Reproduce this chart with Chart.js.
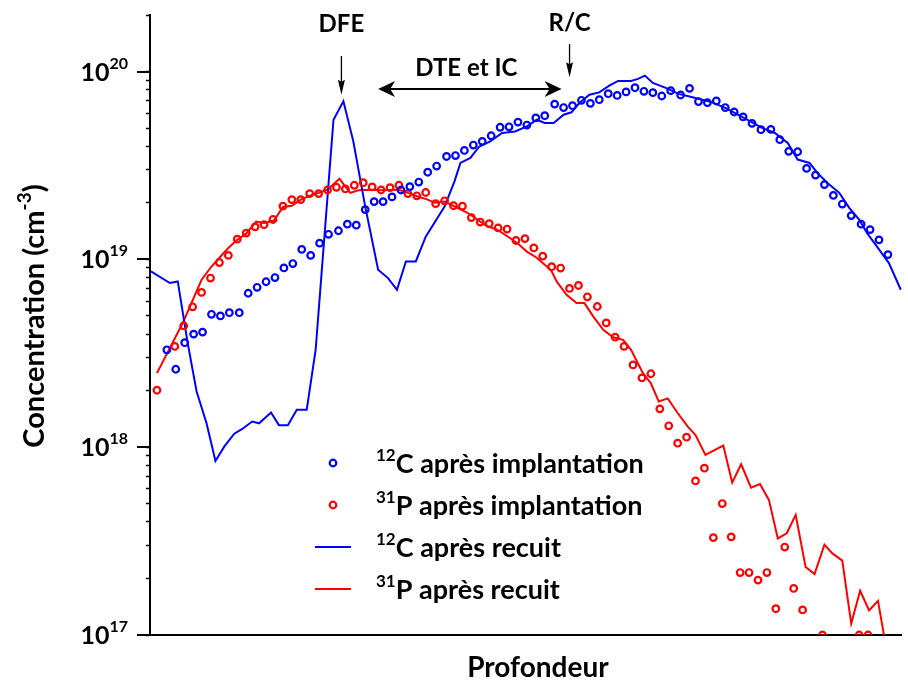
<!DOCTYPE html>
<html>
<head>
<meta charset="utf-8">
<script src="https://cdn.jsdelivr.net/npm/chart.js@4.4.1/dist/chart.umd.min.js"></script>
<style>
  html, body { margin: 0; padding: 0; background: #fff; }
  #wrap { width: 908px; height: 682px; }
</style>
</head>
<body>
<div id="wrap"><canvas id="profile" width="908" height="682"></canvas></div>
<script>
// depth (arbitrary nm scale, no ticks shown) and concentration (cm-3)
const carbonImplDepth = [17, 26, 35, 44, 53, 62, 71, 80, 90, 99, 108, 117, 126, 135, 144, 153, 162, 171, 180, 190,
  199, 208, 217, 226, 235, 244, 253, 262, 271, 280, 289, 299, 308, 317, 326, 335, 344, 353, 362, 371,
  380, 389, 398, 408, 417, 426, 435, 444, 453, 462, 471, 480, 489, 498, 507, 516, 525, 535, 544, 553,
  562, 571, 580, 589, 598, 607, 616, 626, 635, 644, 653, 662, 671, 680, 689, 698, 707, 717, 726, 735, 744];
const carbonImplConc = [3.3e18, 2.6e18, 3.6e18, 4.0e18, 4.1e18, 5.1e18, 5.0e18, 5.2e18, 5.2e18, 6.6e18,
  7.1e18, 7.6e18, 8.0e18, 9.0e18, 9.5e18, 1.13e19, 1.05e19, 1.22e19, 1.36e19, 1.42e19,
  1.54e19, 1.52e19, 1.84e19, 2.03e19, 2.03e19, 2.15e19, 2.34e19, 2.44e19, 2.58e19, 2.91e19,
  3.14e19, 3.53e19, 3.57e19, 3.80e19, 4.06e19, 4.25e19, 4.55e19, 5.05e19, 5.08e19, 5.38e19,
  5.19e19, 5.66e19, 5.82e19, 6.71e19, 6.43e19, 6.58e19, 7.03e19, 6.77e19, 7.08e19, 7.62e19,
  7.46e19, 7.79e19, 8.20e19, 7.85e19, 7.72e19, 7.41e19, 7.91e19, 7.50e19, 8.14e19, 6.92e19,
  6.83e19, 6.97e19, 6.43e19, 6.09e19, 5.73e19, 5.30e19, 4.90e19, 4.92e19, 4.34e19, 3.76e19,
  3.74e19, 3.05e19, 2.81e19, 2.50e19, 2.19e19, 1.97e19, 1.71e19, 1.54e19, 1.44e19, 1.27e19, 1.06e19];

const phosImplDepth = [7, 25, 34, 43, 52, 61, 70, 79, 88, 97, 106, 115, 124, 134, 143, 152, 161, 170, 179, 188,
  197, 206, 215, 224, 233, 242, 251, 260, 269, 278, 288, 297, 306, 315, 324, 333, 342, 351, 360, 369,
  378, 387, 396, 405, 414, 423, 432, 441, 451, 460, 469, 478, 487, 496, 505, 514, 523, 532, 541, 550,
  559, 568, 577, 586, 595, 604, 613, 622, 631, 640, 649, 658, 678, 715, 724];
const phosImplConc = [2.01e18, 3.44e18, 4.43e18, 5.59e18, 6.67e18, 7.95e18, 9.62e18, 1.05e19, 1.28e19, 1.38e19,
  1.49e19, 1.53e19, 1.63e19, 1.92e19, 2.08e19, 2.08e19, 2.24e19, 2.24e19, 2.34e19, 2.42e19,
  2.37e19, 2.48e19, 2.56e19, 2.43e19, 2.34e19, 2.41e19, 2.48e19, 2.24e19, 2.18e19, 2.27e19,
  1.98e19, 2.05e19, 1.93e19, 1.92e19, 1.67e19, 1.58e19, 1.55e19, 1.47e19, 1.45e19, 1.26e19,
  1.29e19, 1.15e19, 1.04e19, 9.14e18, 8.99e18, 7.00e18, 7.26e18, 6.32e18, 5.61e18, 4.59e18,
  3.85e18, 3.44e18, 2.74e18, 2.34e18, 2.46e18, 1.60e18, 1.30e18, 1.05e18, 1.13e18, 6.61e17,
  7.73e17, 3.30e17, 5.01e17, 3.33e17, 2.15e17, 2.15e17, 1.96e17, 2.15e17, 1.38e17, 2.94e17,
  1.77e17, 1.36e17, 1.0e17, 1.0e17, 1.0e17];

const carbonAnnealDepth = [1, 20, 28, 38, 47, 57, 66, 75, 85, 93, 103, 110, 122, 130, 139, 148, 158, 167, 185, 195,
  205, 217, 230, 240, 249, 258, 268, 278, 297, 307, 313, 323, 332, 343, 355, 368, 380, 390, 398, 407,
  417, 425, 433, 443, 453, 463, 472, 485, 492, 499, 507, 520, 533, 547, 567, 580, 590, 602, 617, 630,
  643, 653, 665, 673, 683, 695, 705, 715, 723, 733, 745, 757];
const carbonAnnealConc = [8.63e18, 7.48e18, 7.63e18, 3.58e18, 1.98e18, 1.34e18, 8.45e17, 1.01e18, 1.18e18, 1.25e18,
  1.37e18, 1.34e18, 1.53e18, 1.31e18, 1.31e18, 1.58e18, 1.58e18, 3.30e18, 5.54e19, 6.94e19,
  4.25e19, 1.91e19, 8.81e18, 7.95e18, 6.89e18, 9.75e18, 9.75e18, 1.32e19, 1.91e19, 2.60e19,
  3.26e19, 3.47e19, 3.99e19, 4.25e19, 4.71e19, 4.80e19, 5.11e19, 5.54e19, 5.32e19, 5.32e19,
  5.89e19, 6.07e19, 6.81e19, 7.53e19, 7.74e19, 8.41e19, 8.91e19, 8.91e19, 9.14e19, 9.51e19,
  8.69e19, 8.18e19, 7.60e19, 7.29e19, 6.85e19, 6.40e19, 6.01e19, 5.54e19, 5.01e19, 4.71e19,
  4.17e19, 3.40e19, 3.26e19, 2.88e19, 2.55e19, 2.26e19, 1.88e19, 1.63e19, 1.38e19, 1.17e19, 9.55e18, 6.89e18];

const phosAnnealDepth = [7, 33, 52, 62, 70, 79, 88, 97, 107, 115, 125, 134, 143, 152, 161, 170, 179, 191, 197, 202,
  210, 223, 233, 250, 260, 270, 280, 287, 297, 310, 320, 330, 340, 350, 363, 372, 380, 390, 400, 405,
  410, 420, 430, 438, 447, 457, 467, 477, 485, 497, 505, 513, 522, 532, 542, 550, 560, 578, 587, 596,
  606, 615, 624, 633, 642, 651, 661, 670, 680, 688, 698, 707, 716, 725, 734, 743];
const phosAnnealConc = [2.48e18, 4.58e18, 7.79e18, 9.16e18, 1.02e19, 1.15e19, 1.27e19, 1.37e19, 1.59e19, 1.56e19,
  1.61e19, 1.90e19, 1.93e19, 2.08e19, 2.18e19, 2.26e19, 2.35e19, 2.69e19, 2.44e19, 2.26e19,
  2.33e19, 2.35e19, 2.33e19, 2.35e19, 2.26e19, 2.16e19, 2.08e19, 2.00e19, 2.03e19, 1.88e19,
  1.77e19, 1.63e19, 1.50e19, 1.44e19, 1.30e19, 1.20e19, 1.10e19, 1.02e19, 9.16e18, 8.63e18,
  7.63e18, 6.48e18, 5.85e18, 5.85e18, 4.96e18, 4.22e18, 3.85e18, 3.73e18, 3.30e18, 2.48e18,
  2.19e18, 1.75e18, 1.82e18, 1.52e18, 1.29e18, 1.16e18, 9.10e17, 1.02e18, 6.48e17, 8.11e17,
  6.09e17, 6.37e17, 5.24e17, 3.27e17, 3.48e17, 4.36e17, 2.30e17, 2.11e17, 3.03e17, 2.72e17,
  2.49e17, 1.15e17, 1.72e17, 1.35e17, 1.52e17, 8.1e16];

const decadeTicks = [1e17, 1e18, 1e19, 1e20];
const minorSteps = [1, 2, 3, 4, 5, 6, 7, 8, 9];
const legendLabels = [
  { iso: '12', rest: 'C après implantation', color: '#0000ff', kind: 'point' },
  { iso: '31', rest: 'P après implantation', color: '#ff0000', kind: 'point' },
  { iso: '12', rest: 'C après recuit', color: '#0000ff', kind: 'line' },
  { iso: '31', rest: 'P après recuit', color: '#ff0000', kind: 'line' }
];

const BLUE = '#0000ff';
const RED = '#ff0000';
const FONT = 'Lato, "Open Sans", sans-serif';

function toPoints(xs, ys) {
  return xs.map((x, i) => ({ x, y: ys[i] }));
}

// text with a raised smaller part, e.g. 10^20 or 12C
function richWidth(ctx, parts) {
  let w = 0;
  parts.forEach(p => { ctx.font = p.font; w += ctx.measureText(p.t).width; });
  return w;
}
function drawRich(ctx, parts, x, y) {
  let cx = x;
  parts.forEach(p => {
    ctx.font = p.font;
    ctx.fillText(p.t, cx, y + (p.dy || 0));
    cx += ctx.measureText(p.t).width;
  });
}

function arrowHead(ctx, x, y, angle, len, half, indent) {
  ctx.save();
  ctx.translate(x, y);
  ctx.rotate(angle);
  ctx.beginPath();
  ctx.moveTo(0, 0);
  ctx.lineTo(-len, -half);
  ctx.lineTo(-len + indent, 0);
  ctx.lineTo(-len, half);
  ctx.closePath();
  ctx.fill();
  ctx.restore();
}

const decorPlugin = {
  id: 'decor',
  afterDraw(chart) {
    const { ctx, chartArea: area, scales: { x, y } } = chart;
    ctx.save();
    ctx.fillStyle = '#000';
    ctx.strokeStyle = '#000';
    ctx.textBaseline = 'alphabetic';
    ctx.textAlign = 'left';

    // decade ticks + labels 10^n
    decadeTicks.forEach(v => {
      const py = Math.round(y.getPixelForValue(v));
      ctx.lineWidth = 2;
      ctx.beginPath();
      ctx.moveTo(area.left - 13, py);
      ctx.lineTo(area.left, py);
      ctx.stroke();
      const parts = [
        { t: '10', font: 'bold 25px ' + FONT },
        { t: String(Math.round(Math.log10(v))), font: 'bold 16px ' + FONT, dy: -12 }
      ];
      const w = richWidth(ctx, parts);
      drawRich(ctx, parts, area.left - 22 - w, py + 9);
    });

    // y title, rotated
    ctx.save();
    ctx.translate(44, (area.top + area.bottom) / 2 - 9);
    ctx.rotate(-Math.PI / 2);
    const yParts = [
      { t: 'Concentration (cm', font: 'bold 29px ' + FONT },
      { t: '-3', font: 'bold 19px ' + FONT, dy: -13 },
      { t: ')', font: 'bold 29px ' + FONT }
    ];
    drawRich(ctx, yParts, -richWidth(ctx, yParts) / 2, 0);
    ctx.restore();

    // x title
    ctx.font = 'bold 28px ' + FONT;
    ctx.textAlign = 'center';
    ctx.fillText('Profondeur', (area.left + area.right) / 2 + 12, area.bottom + 42);
    ctx.textAlign = 'left';

    // legend
    const lx = area.left + 183;
    legendLabels.forEach((item, i) => {
      const ry = area.top + 448 + i * 42;
      ctx.strokeStyle = item.color;
      ctx.lineWidth = 2.2;
      ctx.beginPath();
      if (item.kind === 'point') {
        ctx.arc(lx, ry, 3.3, 0, Math.PI * 2);
      } else {
        ctx.lineWidth = 2;
        ctx.moveTo(lx - 18, ry);
        ctx.lineTo(lx + 18, ry);
      }
      ctx.stroke();
      ctx.fillStyle = '#000';
      drawRich(ctx, [
        { t: item.iso, font: 'bold 17px ' + FONT, dy: -12 },
        { t: item.rest, font: 'bold 27px ' + FONT }
      ], area.left + 226, ry + 10);
    });

    // annotations placed on the data scales
    ctx.fillStyle = '#000';
    ctx.strokeStyle = '#000';
    ctx.font = 'bold 24px ' + FONT;
    ctx.textAlign = 'center';

    const dfeX = x.getPixelForValue(193);
    ctx.fillText('DFE', dfeX, y.getPixelForValue(1.63e20));
    let y1 = y.getPixelForValue(1.21e20), y2 = y.getPixelForValue(7.53e19);
    ctx.lineWidth = 1.3;
    ctx.beginPath(); ctx.moveTo(dfeX, y1); ctx.lineTo(dfeX, y2 - 12); ctx.stroke();
    arrowHead(ctx, dfeX, y2, Math.PI / 2, 15, 3.5, 2);

    const rcX = x.getPixelForValue(423);
    ctx.fillText('R/C', rcX, y.getPixelForValue(1.64e20));
    y1 = y.getPixelForValue(1.40e20); y2 = y.getPixelForValue(9.31e19);
    ctx.beginPath(); ctx.moveTo(rcX, y1); ctx.lineTo(rcX, y2 - 12); ctx.stroke();
    arrowHead(ctx, rcX, y2, Math.PI / 2, 15, 3.5, 2);

    ctx.fillText('DTE et IC', x.getPixelForValue(319), y.getPixelForValue(9.43e19));
    const ay = y.getPixelForValue(8.08e19);
    const ax1 = x.getPixelForValue(230), ax2 = x.getPixelForValue(415);
    ctx.lineWidth = 2;
    ctx.beginPath(); ctx.moveTo(ax1 + 10, ay); ctx.lineTo(ax2 - 10, ay); ctx.stroke();
    arrowHead(ctx, ax1, ay, Math.PI, 17, 8, 5);
    arrowHead(ctx, ax2, ay, 0, 17, 8, 5);

    ctx.restore();
  }
};

const pointStyle = color => ({
  showLine: false,
  pointStyle: 'circle',
  pointRadius: 3.3,
  pointBorderWidth: 2.2,
  pointBorderColor: color,
  pointBackgroundColor: 'rgba(255,255,255,0)',
  clip: 0
});
const lineStyle = color => ({
  showLine: true,
  borderColor: color,
  borderWidth: 2,
  pointRadius: 0,
  tension: 0,
  clip: 0
});

new Chart(document.getElementById('profile'), {
  type: 'scatter',
  data: {
    datasets: [
      { label: '12C après implantation', data: toPoints(carbonImplDepth, carbonImplConc), ...pointStyle(BLUE) },
      { label: '31P après implantation', data: toPoints(phosImplDepth, phosImplConc), ...pointStyle(RED) },
      { label: '12C après recuit', data: toPoints(carbonAnnealDepth, carbonAnnealConc), ...lineStyle(BLUE) },
      { label: '31P après recuit', data: toPoints(phosAnnealDepth, phosAnnealConc), ...lineStyle(RED) }
    ]
  },
  options: {
    responsive: false,
    devicePixelRatio: 1,
    animation: false,
    layout: { padding: { top: 15, left: 0, right: 0, bottom: 0 } },
    plugins: {
      legend: { display: false },
      tooltip: { enabled: false },
      title: { display: false }
    },
    scales: {
      x: {
        type: 'linear',
        min: 0,
        max: 758,
        afterFit: s => { s.height = 47; },
        ticks: { display: false },
        grid: { display: false },
        border: { display: true, color: '#000', width: 2 }
      },
      y: {
        type: 'logarithmic',
        min: 1e17,
        max: 2e20,
        afterFit: s => { s.width = 150; },
        afterBuildTicks: s => {
          const ticks = [];
          decadeTicks.forEach(d => minorSteps.forEach(m => {
            const v = d * m;
            if (v >= s.min && v <= s.max) ticks.push({ value: v });
          }));
          s.ticks = ticks;
        },
        ticks: { display: false },
        grid: {
          display: true,
          drawOnChartArea: false,
          drawTicks: true,
          tickLength: 4,
          tickColor: '#000',
          tickWidth: 1.5
        },
        border: { display: true, color: '#000', width: 2 }
      }
    }
  },
  plugins: [decorPlugin]
});
</script>
</body>
</html>
